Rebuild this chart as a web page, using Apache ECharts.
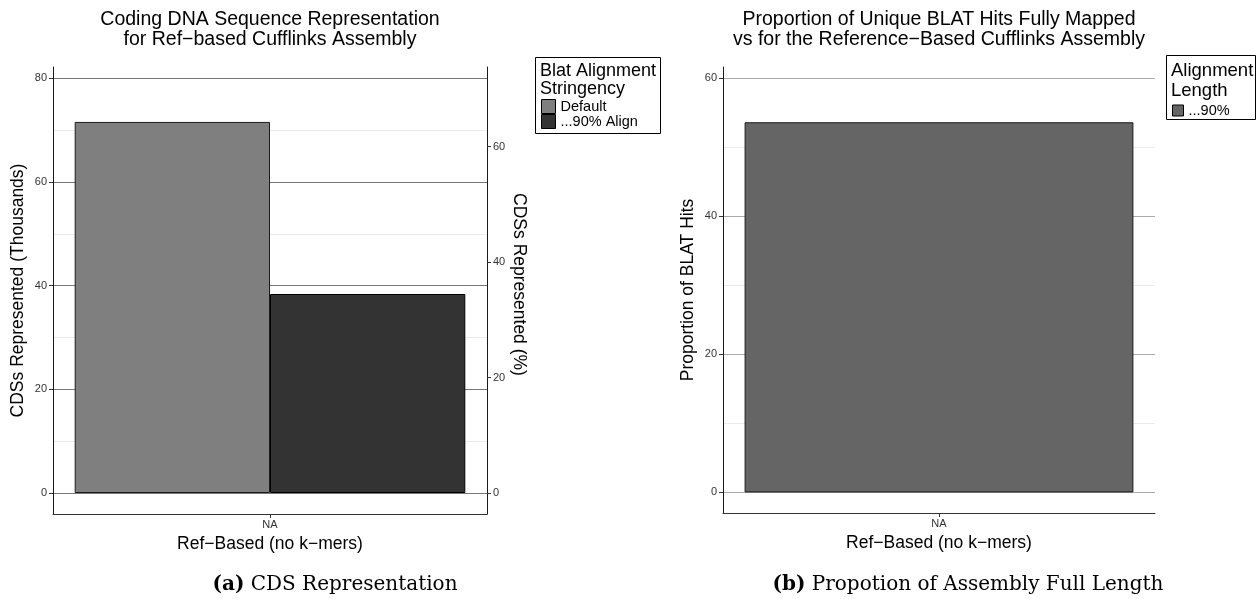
<!DOCTYPE html>
<html>
<head>
<meta charset="utf-8">
<script src="https://cdn.jsdelivr.net/npm/echarts@6/dist/echarts.min.js"></script>
<style>
  html, body { margin: 0; padding: 0; background: #fff; }
  #chart { width: 1257px; height: 599px; }
</style>
</head>
<body>
<div id="chart"></div>
<script>
// ---- data ----
const categories = ['NA'];
const seriesNamesA = ['Default', '...90% Align'];
const seriesNamesB = ['...90%'];
const defaultCds = [71.6];     // CDSs represented (thousands), default stringency
const align90Cds = [38.4];     // CDSs represented (thousands), 90% alignment
const fullLengthPct = [53.6];  // proportion of BLAT hits fully mapped (%)

// tick labels
const thousandsTicks = [0, 20, 40, 60, 80];
const thousandsMinor = [10, 30, 50, 70];
const percentTicks = [0, 20, 40, 60];
const proportionTicks = [0, 20, 40, 60];
const proportionMinor = [10, 30, 50];

const SANS = '"Liberation Sans", Arial, Helvetica, sans-serif';
const SERIF = '"DejaVu Serif", "Liberation Serif", serif';

const chart = echarts.init(document.getElementById('chart'), null, { renderer: 'canvas' });

const tickLabelStyle = { fontSize: 11, color: '#333', fontFamily: SANS };
const nameStyle = { fontSize: 17.5, color: '#000', fontFamily: SANS };

function valueAxis(gridIndex, position, min, max, ticks, opts) {
  return Object.assign({
    type: 'value', gridIndex, position, min, max,
    axisLine: { show: true, lineStyle: { color: '#1a1a1a', width: 1 } },
    axisTick: { show: true, length: 4, inside: false, customValues: ticks, lineStyle: { color: '#333' } },
    axisLabel: { show: true, margin: 6, customValues: ticks, ...tickLabelStyle },
    splitLine: { show: false },
    nameLocation: 'middle',
    nameTextStyle: nameStyle
  }, opts || {});
}

// value axis that only draws light minor grid lines
function gridAxis(gridIndex, min, max, ticks, color) {
  return {
    type: 'value', gridIndex, min, max, position: 'right',
    axisLine: { show: false },
    axisTick: { show: false, customValues: ticks },
    axisLabel: { show: false, customValues: ticks },
    splitLine: { show: true, lineStyle: { color, width: 1 } }
  };
}

function categoryAxis(gridIndex) {
  return {
    type: 'category', gridIndex, data: categories, position: 'bottom',
    axisLine: { show: true, onZero: false, lineStyle: { color: '#333', width: 1 } },
    axisTick: { show: true, alignWithLabel: true, length: 4, lineStyle: { color: '#333' } },
    axisLabel: { margin: 5, ...tickLabelStyle },
    splitLine: { show: false },
    name: 'Ref\u2212Based (no k\u2212mers)',
    nameLocation: 'middle', nameGap: 20,
    nameTextStyle: nameStyle
  };
}

const option = {
  animation: false,
  backgroundColor: '#fff',
  grid: [
    { left: 53, right: 770, top: 67, bottom: 85, outerBoundsMode: 'none' },
    { left: 723, right: 102, top: 67, bottom: 86, outerBoundsMode: 'none' }
  ],
  xAxis: [categoryAxis(0), categoryAxis(1)],
  yAxis: [
    valueAxis(0, 'left', -4.05, 82.2, thousandsTicks, {
      name: 'CDSs Represented (Thousands)', nameGap: 26,
      splitLine: { show: true, lineStyle: { color: '#777', width: 1 } }
    }),
    valueAxis(0, 'right', -3.64, 73.8, percentTicks, {
      name: 'CDSs Represented (%)', nameGap: 23, nameRotate: -90,
      nameTextStyle: Object.assign({}, nameStyle, { padding: [0, 12, 0, 0] })
    }),
    gridAxis(0, -4.05, 82.2, thousandsMinor, '#ebebeb'),
    valueAxis(1, 'left', -2.98, 61.6, proportionTicks, {
      name: 'Proportion of BLAT Hits', nameGap: 26,
      splitLine: { show: true, lineStyle: { color: '#aaa', width: 1 } }
    }),
    gridAxis(1, -2.98, 61.6, proportionMinor, '#ebebeb')
  ],
  legend: [
    {
      data: seriesNamesA, left: 541, top: 99, orient: 'vertical',
      itemWidth: 14, itemHeight: 14, itemGap: 0, padding: 0, icon: 'rect',
      selectedMode: false,
      itemStyle: { borderWidth: 1, borderColor: '#000' },
      textStyle: { fontSize: 14.5, lineHeight: 14, color: '#000', fontFamily: SANS }
    },
    {
      data: seriesNamesB, left: 1172, top: 103, orient: 'vertical',
      itemWidth: 11, itemHeight: 11, itemGap: 0, padding: 0, icon: 'rect',
      selectedMode: false,
      itemStyle: { borderWidth: 1, borderColor: '#000' },
      textStyle: { fontSize: 14.5, lineHeight: 12, color: '#000', fontFamily: SANS }
    }
  ],
  series: [
    {
      type: 'bar', name: seriesNamesA[0], xAxisIndex: 0, yAxisIndex: 0,
      data: defaultCds, barGap: '0%', barCategoryGap: '10%',
      itemStyle: { color: '#7f7f7f', borderColor: '#1a1a1a', borderWidth: 1 }
    },
    {
      type: 'bar', name: seriesNamesA[1], xAxisIndex: 0, yAxisIndex: 0,
      data: align90Cds, barGap: '0%', barCategoryGap: '10%',
      itemStyle: { color: '#333333', borderColor: '#000', borderWidth: 1 }
    },
    {
      type: 'bar', name: seriesNamesB[0], xAxisIndex: 1, yAxisIndex: 3,
      data: fullLengthPct, barCategoryGap: '10%',
      itemStyle: { color: '#656565', borderColor: '#1a1a1a', borderWidth: 1 }
    }
  ],
  graphic: [
    // panel titles
    {
      type: 'text', x: 270, y: 29.5, z: 10,
      style: {
        text: 'Coding DNA Sequence Representation\nfor Ref\u2212based Cufflinks Assembly',
        font: '19.5px ' + SANS, fill: '#000', lineHeight: 20,
        textAlign: 'center', textVerticalAlign: 'middle'
      }
    },
    {
      type: 'text', x: 939, y: 29.5, z: 10,
      style: {
        text: 'Proportion of Unique BLAT Hits Fully Mapped\nvs for the Reference\u2212Based Cufflinks Assembly',
        font: '19.5px ' + SANS, fill: '#000', lineHeight: 20,
        textAlign: 'center', textVerticalAlign: 'middle'
      }
    },
    // legend frames and titles
    {
      type: 'rect', z: 10,
      shape: { x: 535.5, y: 57.5, width: 125, height: 76 },
      style: { fill: 'none', stroke: '#000', lineWidth: 1 }
    },
    {
      type: 'text', x: 540, y: 62, z: 10,
      style: {
        text: 'Blat Alignment\nStringency', font: '18px ' + SANS, fill: '#000',
        lineHeight: 18, textAlign: 'left', textVerticalAlign: 'top'
      }
    },
    {
      type: 'rect', z: 10,
      shape: { x: 1166.5, y: 55.5, width: 89, height: 64 },
      style: { fill: 'none', stroke: '#000', lineWidth: 1 }
    },
    {
      type: 'text', x: 1171, y: 61, z: 10,
      style: {
        text: 'Alignment\nLength', font: '18.5px ' + SANS, fill: '#000',
        lineHeight: 20, textAlign: 'left', textVerticalAlign: 'top'
      }
    },
    // subfigure captions
    {
      type: 'text', x: 335, y: 585, z: 10,
      style: {
        text: '{b|(a)} CDS Representation',
        font: '20px ' + SERIF, fill: '#000',
        textAlign: 'center', textVerticalAlign: 'middle',
        rich: { b: { fontWeight: 'bold', fontSize: 20, fontFamily: SERIF } }
      }
    },
    {
      type: 'text', x: 968, y: 585, z: 10,
      style: {
        text: '{b|(b)} Propotion of Assembly Full Length',
        font: '20px ' + SERIF, fill: '#000',
        textAlign: 'center', textVerticalAlign: 'middle',
        rich: { b: { fontWeight: 'bold', fontSize: 20, fontFamily: SERIF } }
      }
    }
  ]
};

chart.setOption(option);
</script>
</body>
</html>
